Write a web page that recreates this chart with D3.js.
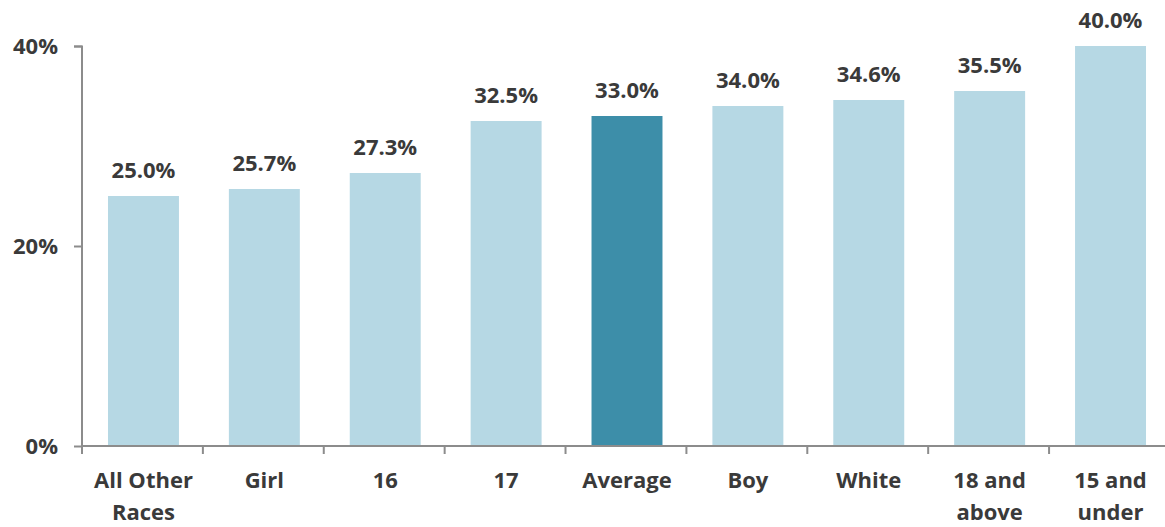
<!DOCTYPE html>
<html>
<head>
<meta charset="utf-8">
<script src="https://cdn.jsdelivr.net/npm/d3@7"></script>
<style>
  body { margin: 0; background: #fff; }
  text { font-family: "Open Sans", sans-serif; font-weight: bold; fill: #3a3a3a; }
  .axis path, .axis line { stroke: #8c8c8c; stroke-width: 2; }
</style>
</head>
<body>
<svg id="chart" width="1165" height="527"></svg>
<script>
const categories = [["All Other", "Races"], ["Girl"], ["16"], ["17"], ["Average"], ["Boy"], ["White"], ["18 and", "above"], ["15 and", "under"]];
const values = [25.0, 25.7, 27.3, 32.5, 33.0, 34.0, 34.6, 35.5, 40.0];
const highlight = "Average";
const yTicks = [0, 20, 40];

let margin = {top: 46, right: 0, bottom: 81, left: 82}
  , width = 1090 // plot runs a little past the right edge
  , height = 527 - margin.top - margin.bottom;

let svg = d3.select("#chart")
  .append("g")
    .attr("transform", "translate(" + margin.left + "," + margin.top + ")");

let keys = categories.map(c => c.join(" "));

let xScale = d3.scaleBand()
    .domain(keys)
    .range([0, width])
    .paddingInner(0.413)
    .paddingOuter(0.215);

let yScale = d3.scaleLinear()
    .domain([0, 40])
    .range([height, 0]);

// bars
svg.selectAll(".bar")
    .data(values)
  .enter().append("rect")
    .attr("class", "bar")
    .attr("x", (d, i) => xScale(keys[i]))
    .attr("width", xScale.bandwidth())
    .attr("y", d => yScale(d))
    .attr("height", d => height - yScale(d))
    .attr("fill", (d, i) => keys[i] === highlight ? "#3d8ea9" : "#b6d8e4");

// value labels
svg.selectAll(".val")
    .data(values)
  .enter().append("text")
    .attr("class", "val")
    .attr("x", (d, i) => xScale(keys[i]) + xScale.bandwidth() / 2)
    .attr("y", d => yScale(d) - 18)
    .attr("text-anchor", "middle")
    .style("font-size", "22px")
    .text(d => d.toFixed(1) + "%");

// y axis
let yAxis = svg.append("g")
    .attr("class", "axis")
    .call(d3.axisLeft(yScale).tickValues(yTicks).tickSize(8).tickPadding(16).tickFormat(d => d + "%"));
yAxis.select(".domain").attr("d", "M-8,0.5H0V" + height);
yAxis.selectAll("text").style("font-size", "22px").attr("fill", "#3a3a3a");

// x axis: ticks between categories
let xAxis = svg.append("g")
    .attr("class", "axis")
    .attr("transform", "translate(0," + height + ")");
xAxis.append("path")
    .attr("d", "M0,0H" + width)
    .attr("fill", "none");
let step = xScale.step();
xAxis.selectAll(".sep")
    .data(d3.range(keys.length))
  .enter().append("line")
    .attr("x1", i => i * step)
    .attr("x2", i => i * step)
    .attr("y1", 0)
    .attr("y2", 8);

let lbl = xAxis.selectAll(".lbl")
    .data(categories)
  .enter().append("text")
    .attr("class", "lbl")
    .attr("x", (d, i) => xScale(keys[i]) + xScale.bandwidth() / 2)
    .attr("y", 42)
    .attr("text-anchor", "middle")
    .style("font-size", "22px");
lbl.selectAll("tspan")
    .data(d => d)
  .enter().append("tspan")
    .attr("x", function() { return this.parentNode.getAttribute("x"); })
    .attr("dy", (d, i) => i === 0 ? 0 : 32)
    .text(d => d);
</script>
</body>
</html>
